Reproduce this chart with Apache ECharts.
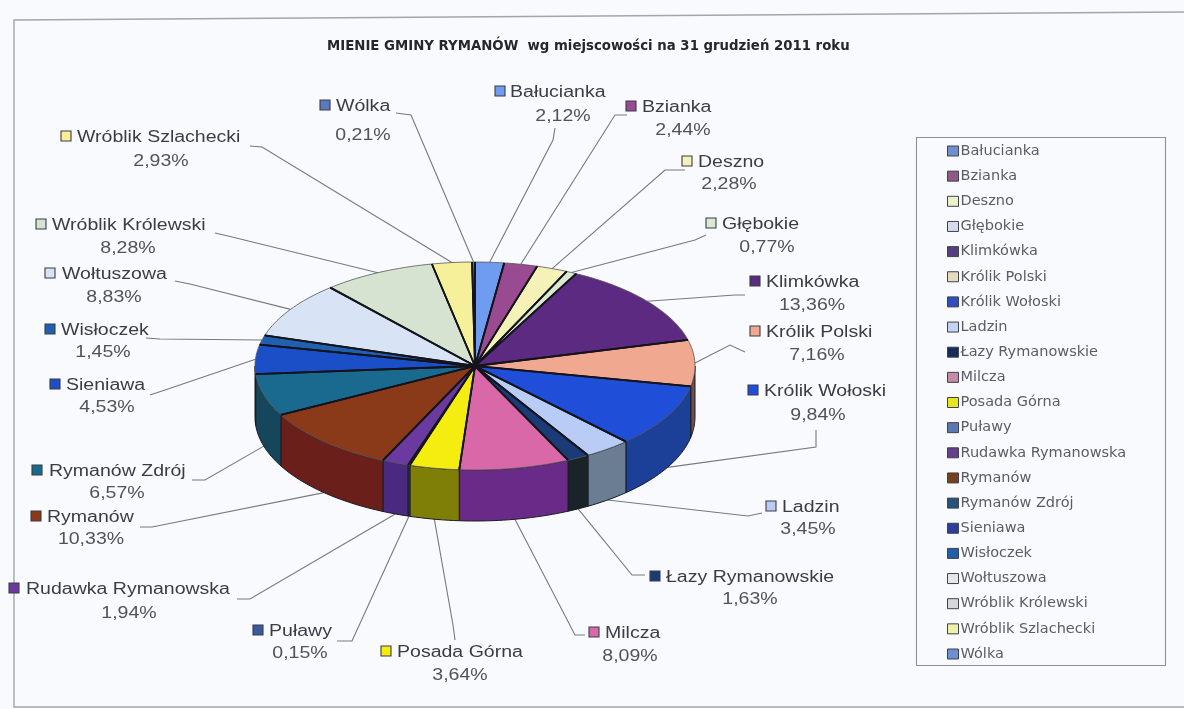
<!DOCTYPE html>
<html><head><meta charset="utf-8">
<style>html,body{margin:0;padding:0;background:#f9fafe;}#c{width:1184px;height:709px;filter:blur(0.55px);}</style>
<script src="https://cdn.jsdelivr.net/npm/echarts@6/dist/echarts.min.js"></script>
</head><body><div id="c"></div>
<script>
var titleText = 'MIENIE GMINY RYMANÓW  wg miejscowości na 31 grudzień 2011 roku';
var categories = ['Bałucianka','Bzianka','Deszno','Głębokie','Klimkówka','Królik Polski','Królik Wołoski','Ladzin','Łazy Rymanowskie','Milcza','Posada Górna','Puławy','Rudawka Rymanowska','Rymanów','Rymanów Zdrój','Sieniawa','Wisłoczek','Wołtuszowa','Wróblik Królewski','Wróblik Szlachecki','Wólka'];
var values = [2.12,2.44,2.28,0.77,13.36,7.16,9.84,3.45,1.63,8.09,3.64,0.15,1.94,10.33,6.57,4.53,1.45,8.83,8.28,2.93,0.21];
var topColors = ['#6f9cf0','#9a4a90','#f5f2b8','#dbe8d2','#5c2a80','#f0a890','#1f4fd8','#b8ccf5','#1a3a78','#d868a8','#f5ec10','#3a5aa0','#6a3aa0','#8a3a18','#1a6a90','#1a4fc8','#2060b0','#d8e4f5','#d5e3d0','#f7f09a','#5a7ac0'];
var wallColors = ['#44608f','#5f2f5a','#98966f','#8a9584','#3a1a50','#6d5048','#1c3f98','#6a7d92','#1a2428','#6a2a88','#7f7f08','#243860','#4a2a80','#6a1f1a','#16465c','#103078','#143c70','#87909a','#848d80','#99955f','#384c78'];
var legendColors = ['#6f8fd0','#8f5a85','#eef0c8','#d4dceb','#55407f','#e5dcc0','#2f4fc0','#c3d4f0','#152c5a','#c58aa8','#e6e620','#5c78b0','#64408a','#74401f','#27527c','#2a3f9a','#2060a8','#e6e6ea','#d5d8d8','#eef2a8','#6f90d0'];

/* layout only: [marker x, name start x, name y, pct centre x, pct y, elbow x1, y1, x2, y2] */
var labelLayout = [
 [500,510,91,563,115,555,128,553,140],
 [631,642,106,683,129,627,115,615,115],
 [687,698,161,729,183,685,170,665,170],
 [711,722,223,767,246,706,235,695,240],
 [755,766,281,812,304,745,295,735,295],
 [755,766,331,817,354,745,352,730,345],
 [753,764,390,818,414,816,430,816,447],
 [771,782,506,808,528,762,513,748,516],
 [655,666,576,750,598,645,575,632,575],
 [594,605,632,630,655,585,635,575,635],
 [386,397,651,460,674,455,640,453,625],
 [258,269,630,300,652,337,641,352,641],
 [14,26,588,129,612,237,599,250,599],
 [36,47,516,91,538,140,527,152,527],
 [37,49,470,117,492,192,480,205,480],
 [55,66,384,107,406,150,395,165,390],
 [50,61,329,103,351,146,338,160,339],
 [50,62,273,114,296,175,281,190,284],
 [41,52,224,128,247,215,233,228,236],
 [66,77,136,161,160,250,146,262,147],
 [325,336,105,363,134,396,113,411,115]
];
var cx=475, cy=366, rx=220, ry=104, depth=51, textStretch=1.22, textDrop=1.5;
function pt(frac,extra){var a=frac*2*Math.PI;return [cx+rx*Math.sin(a), cy-ry*Math.cos(a)+(extra||0)];}
var total=values.reduce(function(a,b){return a+b;},0);
var starts=[],acc=0;values.forEach(function(v){starts.push(acc/total);acc+=v;});

function renderSlice(i){
 return function(params,api){
  var v=api.value(0),s=starts[i],e=s+v/total,children=[],n=Math.max(6,Math.ceil((e-s)*240)),k;
  var m=(s+e)/2,front=Math.cos(m*2*Math.PI)<0,end=pt(m,front?depth:0),L=labelLayout[i];
  children.push({type:'polyline',shape:{points:[[L[5],L[6]],[L[7],L[8]],end]},style:{stroke:'#77797f',lineWidth:1.1,fill:null},z2:1});
  var ws=Math.max(s,0.25),we=Math.min(e,0.75);
  if(we>ws){
   var up=[],down=[];
   for(k=0;k<=n;k++){var f=ws+(we-ws)*k/n;up.push(pt(f));down.unshift(pt(f,depth));}
   children.push({type:'polygon',shape:{points:up.concat(down)},style:{fill:wallColors[i],stroke:'#1b1b22',lineWidth:1},z2:2});
  }
  var pts=[[cx,cy]];
  for(k=0;k<=n;k++)pts.push(pt(s+(e-s)*k/n));
  children.push({type:'polygon',shape:{points:pts},style:{fill:topColors[i],stroke:'#55565c',lineWidth:0.8,lineJoin:'round'},z2:3});
  children.push({type:'polyline',shape:{points:[pt(s),[cx,cy],pt(e)]},style:{stroke:'#14141c',lineWidth:i===11?1:1.8,fill:null},z2:4});
  children.push({type:'rect',shape:{x:L[0]-5,y:L[2]-5,width:10,height:10},style:{fill:topColors[i],stroke:'#3a3d45',lineWidth:1.1},z2:5});
  children.push({type:'text',x:L[1],y:L[2]+textDrop,scaleX:textStretch,style:{text:categories[i],font:'16px "Liberation Sans"',fill:'#3a3d45',verticalAlign:'middle',align:'left'},z2:5});
  children.push({type:'text',x:L[3],y:L[4]+textDrop,scaleX:textStretch,style:{text:v.toFixed(2).replace('.',',')+'%',font:'16px "Liberation Sans"',fill:'#50535a',verticalAlign:'middle',align:'center'},z2:5});
  return {type:'group',children:children};
 };
}
var series=categories.map(function(name,i){
 return {name:name,type:'custom',coordinateSystem:'none',silent:true,animation:false,data:[[values[i]]],
  itemStyle:{color:legendColors[i]},renderItem:renderSlice(i),encode:{}};
});
var chart=echarts.init(document.getElementById('c'),null,{renderer:'canvas'});
chart.setOption({
 animation:false,backgroundColor:'#f9fafe',
 title:{text:titleText,left:327,top:40,padding:0,textStyle:{fontFamily:'DejaVu Sans',fontSize:13.3,fontWeight:'bold',color:'#25272c'}},
 legend:{orient:'vertical',left:947,top:143.5,padding:0,itemWidth:11,itemHeight:10,itemGap:10.15,data:categories,selectedMode:false,icon:'rect',
  itemStyle:{borderColor:'#3f424a',borderWidth:1},
  textStyle:{fontFamily:'DejaVu Sans',fontSize:14.5,color:'#5a5d65',padding:[0,0,0,-3]}},
 graphic:[
  {type:'polyline',silent:true,shape:{points:[[1184,12],[14,20],[14,707],[1184,707]]},style:{stroke:'#a2a5ab',lineWidth:1.4,fill:null}},
  {type:'rect',silent:true,shape:{x:916.5,y:137.5,width:249,height:528},style:{fill:'#f9fafe',stroke:'#8c8f96',lineWidth:1.1},z:-1}
 ],
 series:series
});
</script></body></html>
